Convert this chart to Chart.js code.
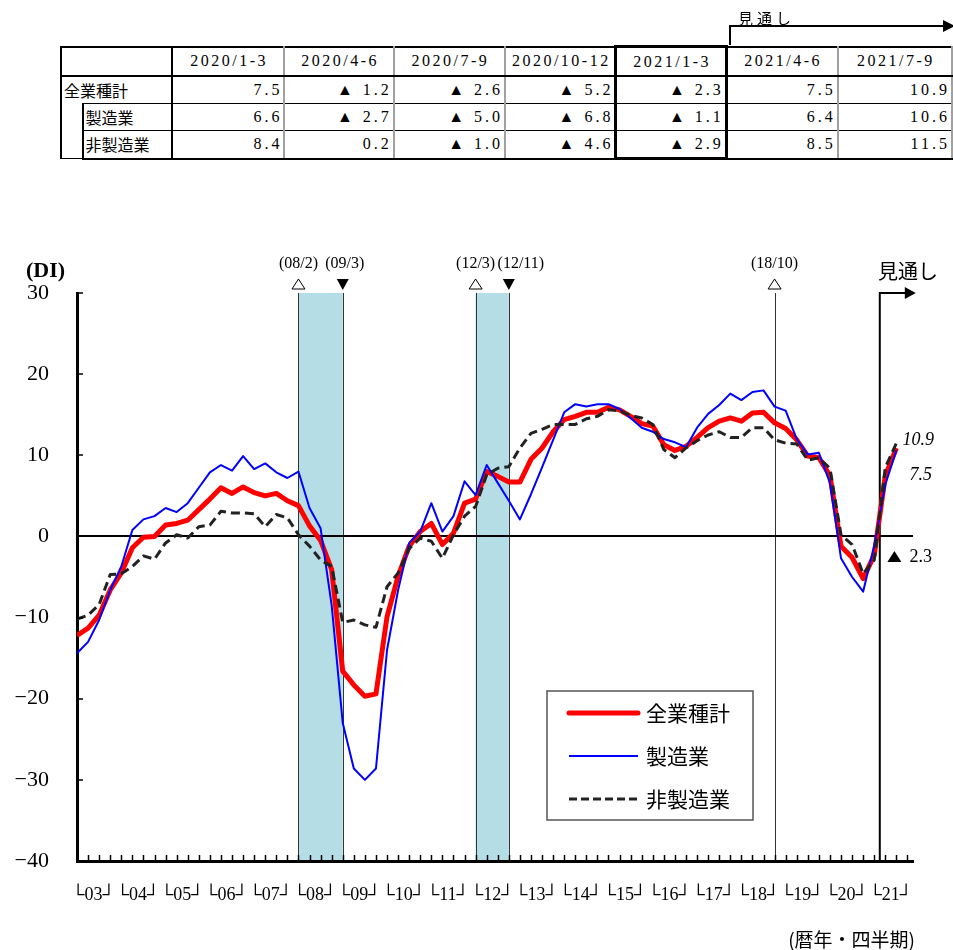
<!DOCTYPE html>
<html lang="ja">
<head>
<meta charset="utf-8">
<title>業況判断DI</title>
<script src="https://cdn.jsdelivr.net/npm/chart.js@4.4.1/dist/chart.umd.min.js"></script>
<style>
  body { margin: 0; width: 953px; height: 950px; background: #fff; position: relative; overflow: hidden; }
  #chart { position: absolute; left: 0; top: 0; }
  #outlook { position: absolute; left: 729px; top: 25px; width: 212px; height: 20px; border-left: 2px solid #000; border-top: 2px solid #000; z-index: 2; }
  #outlook span { position: absolute; left: 7px; top: -20px; font: 15px 'Noto Sans CJK JP', sans-serif; letter-spacing: 4px; }
  #outlook i { position: absolute; right: -12px; top: -7px; border-left: 12px solid #000; border-top: 6px solid transparent; border-bottom: 6px solid transparent; }
  #tbl { position: absolute; left: 60px; top: 45px; border-collapse: collapse; table-layout: fixed; z-index: 2; background: #fff;
         font-family: 'Liberation Serif', 'DejaVu Serif', serif; font-size: 16px; }
  #tbl td, #tbl th { height: 26px; padding: 0 1px 0 0; border: 2px solid #a0a0a0; border-top: 1.5px solid #000; border-bottom: 1.5px solid #000;
         text-align: right; font-weight: normal; letter-spacing: 3px; white-space: nowrap; overflow: hidden; }
  #tbl th { height: 27px; text-align: center; padding: 0 0 0 2px; font-size: 16px; letter-spacing: 2.5px; border-top: 2px solid #000; border-bottom: 2.5px solid #000; }
  #tbl tr:last-child td { border-bottom: 2.5px solid #000; }
  #tbl .lab { border-left: 2px solid #000; border-right: 2px solid #000; text-align: left; letter-spacing: 0; padding: 0 0 0 2px;
         font-family: 'Noto Sans CJK JP', sans-serif; font-size: 16px; }
  #tbl .ind { border-left: 2px solid #000; border-right: 1.5px solid #000; border-top-style: hidden; padding: 0; }
  #tbl .cur { border-left: 3px solid #000; border-right: 3px solid #000; }
  #tbl th.cur { border-top: 3px solid #000; }
  #tbl tr:last-child td.cur { border-bottom: 3px solid #000; }
</style>
</head>
<body>
<div id="outlook"><span>見通し</span><i></i></div>
<table id="tbl">
  <colgroup>
    <col style="width:22px"><col style="width:90px">
    <col style="width:113px"><col style="width:110px"><col style="width:112px"><col style="width:111px">
    <col style="width:111px"><col style="width:112px"><col style="width:115px">
  </colgroup>
  <tbody id="tbody"></tbody>
</table>
<canvas id="chart" width="953" height="950"></canvas>
<script>
// 四半期（2003/1-3 〜 2021/7-9）
const years = ['2003', '2004', '2005', '2006', '2007', '2008', '2009', '2010', '2011', '2012',
               '2013', '2014', '2015', '2016', '2017', '2018', '2019', '2020', '2021'];
const yearTicks = ['03', '04', '05', '06', '07', '08', '09', '10', '11', '12',
                   '13', '14', '15', '16', '17', '18', '19', '20', '21'];
const qNames = ['1-3', '4-6', '7-9', '10-12'];
const quarters = years.flatMap(y => qNames.map(q => y + '/' + q)).slice(0, 75);

const allIndustries = [
  -12.2, -11.3, -9.7, -6.6, -4.5, -1.4, -0.1, 0.0, 1.4, 1.6, 2.0, 3.3, 4.6, 6.0, 5.3, 6.1,
  5.4, 5.0, 5.3, 4.4, 3.8, 1.3, -0.5, -4.1, -16.6, -18.3, -19.7, -19.4, -9.9, -4.9, -1.2, 0.6,
  1.6, -1.0, 0.4, 4.1, 4.6, 8.0, 7.4, 6.7, 6.7, 9.5, 10.9, 12.9, 14.4, 14.8, 15.3, 15.3,
  15.9, 15.6, 14.8, 13.9, 13.6, 11.3, 10.6, 11.1, 12.2, 13.4, 14.2, 14.6, 14.2, 15.2, 15.3, 14.0,
  13.3, 11.9, 9.9, 9.7, 7.5, -1.2, -2.6, -5.2, -2.3, 7.5, 10.9
];
const manufacturing = [
  -14.4, -13.0, -10.3, -6.6, -3.7, 0.8, 2.1, 2.5, 3.5, 3.0, 4.1, 6.0, 7.9, 8.8, 8.1, 9.9,
  8.3, 9.0, 7.9, 7.2, 8.0, 3.5, 1.0, -8.5, -23.0, -28.6, -30.0, -28.6, -14.0, -6.6, -0.8, 0.6,
  4.1, 0.6, 2.5, 6.8, 5.1, 8.8, 6.6, 4.4, 2.1, 5.2, 8.5, 11.9, 15.3, 16.3, 16.0, 16.3,
  16.3, 15.7, 14.6, 13.4, 12.9, 12.0, 11.6, 11.0, 13.4, 15.1, 16.2, 17.6, 16.8, 17.8, 18.0, 16.0,
  15.5, 12.0, 10.1, 10.3, 6.6, -2.7, -5.0, -6.8, -1.1, 6.4, 10.6
];
const nonManufacturing = [
  -10.2, -9.7, -8.4, -4.7, -4.6, -3.7, -2.4, -2.8, -0.8, 0.2, -0.2, 1.2, 1.4, 3.1, 2.9, 2.9,
  2.8, 1.2, 2.7, 2.3, 0.2, -1.2, -2.9, -3.7, -10.6, -10.3, -10.9, -11.2, -6.2, -4.5, -1.5, -0.2,
  -0.6, -2.7, 0.2, 2.5, 3.7, 7.6, 8.4, 8.6, 10.9, 12.7, 13.2, 13.8, 13.8, 13.8, 14.5, 14.8,
  15.6, 15.5, 14.9, 14.6, 13.8, 10.7, 9.7, 10.9, 11.8, 12.5, 12.9, 12.2, 12.2, 13.4, 13.4, 11.9,
  11.5, 11.4, 9.4, 9.7, 8.4, 0.2, -1.0, -4.6, -2.9, 8.5, 11.5
];

// 景気の山(△)・谷(▼)
const peaks = [
  { at: '2008/1-3', label: '(08/2)' },
  { at: '2012/1-3', label: '(12/3)' },
  { at: '2018/10-12', label: '(18/10)' }
];
const troughs = [
  { at: '2009/1-3', label: '(09/3)' },
  { at: '2012/10-12', label: '(12/11)' }
];
const recessionBands = [['2008/1-3', '2009/1-3'], ['2012/1-3', '2012/10-12']];
const lastActual = '2021/1-3';
const tableStart = '2020/1-3';

const series = [
  { label: '全業種計', data: allIndustries, color: '#ff0000', width: 5, dash: [] },
  { label: '製造業', data: manufacturing, color: '#0000ff', width: 2, dash: [] },
  { label: '非製造業', data: nonManufacturing, color: '#222222', width: 3, dash: [9, 5] }
];

const serif = "'Liberation Serif', 'DejaVu Serif', serif";
const jp = "'Noto Sans CJK JP', sans-serif";
const fmt = v => (v < 0 ? '▲ ' + Math.abs(v).toFixed(1) : v.toFixed(1));

// table
const t0 = quarters.indexOf(tableStart);
const cols = quarters.slice(t0);
const cur = quarters.indexOf(lastActual) - t0;
let html = '<tr><th class="lab" colspan="2"></th>' +
  cols.map((q, k) => `<th${k === cur ? ' class="cur"' : ''}>${q}</th>`).join('') + '</tr>';
series.forEach((s, r) => {
  const head = r === 0 ? `<td class="lab" colspan="2">${s.label}</td>`
    : (r === 1 ? '<td class="ind" rowspan="2"></td>' : '') + `<td class="lab">${s.label}</td>`;
  html += '<tr>' + head + s.data.slice(t0).map((v, k) => `<td${k === cur ? ' class="cur"' : ''}>${fmt(v)}</td>`).join('') + '</tr>';
});
document.getElementById('tbody').innerHTML = html;

const idx = q => quarters.indexOf(q);

const decor = {
  id: 'decor',
  beforeDraw(chart) {
    const { ctx, chartArea: a, scales: { x } } = chart;
    ctx.save();
    recessionBands.forEach(([p, t]) => {
      const x0 = x.getPixelForValue(idx(p)), x1 = x.getPixelForValue(idx(t));
      ctx.fillStyle = '#b5dde6';
      ctx.fillRect(x0, a.top, x1 - x0, a.bottom - a.top);
    });
    ctx.strokeStyle = '#333';
    ctx.lineWidth = 1;
    [...peaks, ...troughs].forEach(m => {
      const px = Math.round(x.getPixelForValue(idx(m.at))) + 0.5;
      ctx.beginPath(); ctx.moveTo(px, a.top); ctx.lineTo(px, a.bottom); ctx.stroke();
    });
    // 見通し
    const fx = x.getPixelForValue(idx(lastActual) + 0.5);
    ctx.lineWidth = 2;
    ctx.strokeStyle = '#000';
    ctx.beginPath(); ctx.moveTo(fx, a.bottom); ctx.lineTo(fx, a.top); ctx.lineTo(fx + 27, a.top); ctx.stroke();
    ctx.fillStyle = '#000';
    ctx.beginPath(); ctx.moveTo(fx + 36, a.top); ctx.lineTo(fx + 25, a.top - 6); ctx.lineTo(fx + 25, a.top + 6); ctx.closePath(); ctx.fill();
    ctx.restore();
  },
  afterDraw(chart) {
    const { ctx, chartArea: a, scales: { x, y } } = chart;
    ctx.save();
    ctx.strokeStyle = '#000';
    ctx.lineWidth = 1.5;
    // inward ticks
    for (let v = -40; v <= 30; v += 10) {
      const py = Math.round(y.getPixelForValue(v));
      ctx.beginPath(); ctx.moveTo(a.left, py); ctx.lineTo(a.left + 6, py); ctx.stroke();
    }
    for (let i = 1; i <= 75; i++) {
      const px = Math.round(x.getPixelForValue(i)) + 0.5;
      ctx.beginPath(); ctx.moveTo(px, a.bottom); ctx.lineTo(px, a.bottom - 6); ctx.stroke();
    }
    // peak / trough marks
    ctx.fillStyle = '#000';
    ctx.textAlign = 'center';
    ctx.textBaseline = 'middle';
    ctx.font = '16px ' + serif;
    peaks.forEach(m => {
      const px = x.getPixelForValue(idx(m.at));
      ctx.fillText(m.label, px, 264);
      ctx.lineWidth = 1;
      ctx.beginPath(); ctx.moveTo(px, 279); ctx.lineTo(px + 6.5, 289); ctx.lineTo(px - 6.5, 289); ctx.closePath(); ctx.stroke();
    });
    troughs.forEach(m => {
      const px = x.getPixelForValue(idx(m.at));
      ctx.fillText(m.label, px + (m.label.length > 6 ? 12 : 2), 264);
      ctx.beginPath(); ctx.moveTo(px - 6, 279); ctx.lineTo(px + 6, 279); ctx.lineTo(px, 290); ctx.closePath(); ctx.fill();
    });
    // texts
    ctx.textAlign = 'left';
    ctx.font = 'bold 22px ' + serif;
    ctx.fillText('(DI)', 26, 271);
    ctx.font = '20px ' + jp;
    ctx.fillText('見通し', 878, 271);
    const last = quarters.length - 1;
    const lx = x.getPixelForValue(last);
    ctx.font = 'italic 18px ' + serif;
    ctx.fillText(allIndustries[last].toFixed(1), lx + 6, y.getPixelForValue(allIndustries[last]) - 8);
    ctx.fillText(allIndustries[last - 1].toFixed(1), lx + 13, y.getPixelForValue(allIndustries[last - 1]));
    const py = y.getPixelForValue(allIndustries[last - 2]) + 2;
    ctx.beginPath(); ctx.moveTo(lx - 9, py + 5); ctx.lineTo(lx + 5, py + 5); ctx.lineTo(lx - 2, py - 6); ctx.closePath(); ctx.fill();
    ctx.font = '18px ' + serif;
    ctx.fillText(Math.abs(allIndustries[last - 2]).toFixed(1), lx + 13, py);
    ctx.textAlign = 'right';
    ctx.font = '19px ' + jp;
    ctx.fillText('(暦年・四半期)', 915, 940);
    // legend
    ctx.fillStyle = '#fff';
    ctx.fillRect(547, 691, 206, 129);
    ctx.strokeStyle = '#555';
    ctx.lineWidth = 1.5;
    ctx.strokeRect(547, 691, 206, 129);
    ctx.textAlign = 'left';
    ctx.font = '21px ' + jp;
    series.forEach((s, k) => {
      const ly = 713 + k * 43;
      ctx.strokeStyle = s.color;
      ctx.lineWidth = s.width;
      ctx.lineCap = s.width > 3 ? 'round' : 'butt';
      ctx.setLineDash(s.dash.length ? [8, 4] : []);
      ctx.beginPath(); ctx.moveTo(569, ly); ctx.lineTo(638, ly); ctx.stroke();
      ctx.setLineDash([]);
      ctx.fillStyle = '#000';
      ctx.fillText(s.label, 646, ly);
    });
    ctx.restore();
  }
};

const ctx = document.getElementById('chart').getContext('2d');
new Chart(ctx, {
  type: 'line',
  data: {
    datasets: series.map((s, k) => ({
      label: s.label,
      data: s.data.map((v, i) => ({ x: i, y: v })),
      borderColor: s.color,
      borderWidth: s.width,
      borderDash: s.dash,
      order: 3 - k
    }))
  },
  options: {
    responsive: false,
    animation: false,
    devicePixelRatio: 1,
    layout: { padding: { top: 293, right: 40, left: 0, bottom: 0 } },
    elements: { point: { radius: 0 }, line: { tension: 0, borderJoinStyle: 'round' } },
    plugins: { legend: { display: false }, tooltip: { enabled: false } },
    scales: {
      x: {
        type: 'linear', min: 0, max: 75.5,
        grid: { display: false },
        border: { color: '#000', width: 3 },
        afterBuildTicks: s => { s.ticks = yearTicks.map((t, k) => ({ value: 4 * k + 1.5 })); },
        afterFit: s => { s.height = 89; },
        ticks: {
          autoSkip: false, maxRotation: 0, padding: 15, color: '#000',
          font: { family: serif, size: 18 },
          callback: (v, i) => '└' + yearTicks[i] + '┘'
        }
      },
      y: {
        min: -40, max: 30,
        afterFit: s => { s.width = 77; },
        border: { color: '#000', width: 3 },
        grid: {
          drawTicks: false, lineWidth: 2,
          color: c => (c.tick && c.tick.value === 0 ? '#000' : 'rgba(0,0,0,0)')
        },
        ticks: {
          stepSize: 10, padding: 28, color: '#000',
          font: { family: serif, size: 22 },
          callback: v => String(v).replace('-', '−')
        }
      }
    }
  },
  plugins: [decor]
});
</script>
</body>
</html>
